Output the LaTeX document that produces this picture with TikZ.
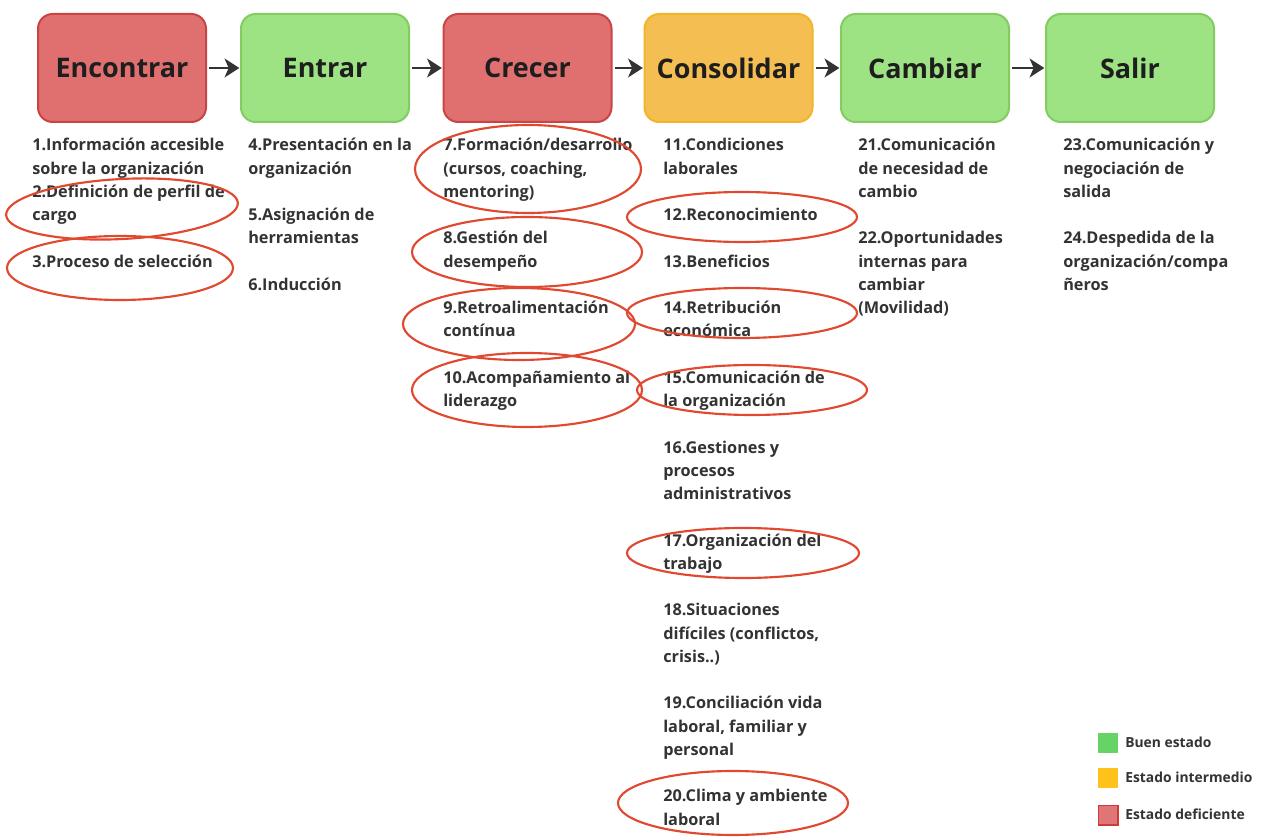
\documentclass[tikz,border=0pt]{standalone}
\usepackage{fontspec}
\setmainfont{Open Sans}
\usetikzlibrary{arrows.meta}
\definecolor{redfill}{HTML}{E07070}
\definecolor{redline}{HTML}{C94545}
\definecolor{greenfill}{HTML}{9DE283}
\definecolor{greenline}{HTML}{82CC62}
\definecolor{orangefill}{HTML}{F4BE52}
\definecolor{orangeline}{HTML}{F2B527}
\definecolor{headtext}{HTML}{1E1E1E}
\definecolor{bodytext}{HTML}{333333}
\definecolor{arrowgray}{HTML}{333333}
\definecolor{ringred}{HTML}{E0492F}
\definecolor{leggreen}{HTML}{66D366}
\definecolor{legorange}{HTML}{FFC21A}
\definecolor{legred}{HTML}{E07575}
\definecolor{legredline}{HTML}{CC3A3A}
\begin{document}
\begin{tikzpicture}[x=0.75pt,y=-0.75pt,
  stage/.style={draw, line width=1.5pt, rounded corners=11pt,
    minimum width=126pt, minimum height=81pt, inner sep=0pt,
    font=\fontsize{20.2}{24}\selectfont\bfseries, text=headtext},
  bad/.style={stage, fill=redfill, draw=redline},
  good/.style={stage, fill=greenfill, draw=greenline},
  midway state/.style={stage, fill=orangefill, draw=orangeline},
  flow/.style={-{Stealth[length=11pt,width=14pt,inset=3pt]}, line width=2.2pt,
    draw=arrowgray, shorten <=1.5pt, shorten >=0.5pt},
  % items are placed by the baseline of their last line (151 + 23.25 k)
  itm/.style={anchor=base west, align=left, inner sep=0pt,
    font=\fontsize{12.2}{17.44}\selectfont\bfseries, text=bodytext},
  ring/.style={draw=ringred, line width=1.6pt},
  legbox/.style={minimum size=14.5pt, inner sep=0pt, anchor=north west},
  legtext/.style={anchor=base west, inner sep=0pt,
    font=\fontsize{10.4}{12}\selectfont\bfseries, text=bodytext}]
\useasboundingbox[fill=white] (0,0) rectangle (1264,837);

% stages
\node[bad]          (enc) at (122,68)    {Encontrar};
\node[good]         (ent) at (325,68)    {Entrar};
\node[bad]          (cre) at (527.5,68)  {Crecer};
\node[midway state] (con) at (728.5,68)  {Consolidar};
\node[good]         (cam) at (925,68)    {Cambiar};
\node[good]         (sal) at (1130,68)   {Salir};

\draw[flow] (enc) -- (ent);
\draw[flow] (ent) -- (cre);
\draw[flow] (cre) -- (con);
\draw[flow] (con) -- (cam);
\draw[flow] (cam) -- (sal);

% items under each stage
\node[itm] (i1) at (32,{151+23.25*1}) {1.Información accesible\\sobre la organización};
\node[itm] (i2) at (32,{151+23.25*3}) {2.Definición de perfil de\\cargo};
\node[itm] (i3) at (32,{151+23.25*5}) {3.Proceso de selección};

\node[itm] (i4) at (248,{151+23.25*1}) {4.Presentación en la\\organización};
\node[itm] (i5) at (248,{151+23.25*4}) {5.Asignación de\\herramientas};
\node[itm] (i6) at (248,{151+23.25*6}) {6.Inducción};

\node[itm] (i7) at (443,{151+23.25*2}) {7.Formación/desarrollo\\(cursos, coaching,\\mentoring)};
\node[itm] (i8) at (443,{151+23.25*5}) {8.Gestión del\\desempeño};
\node[itm] (i9) at (443,{151+23.25*8}) {9.Retroalimentación\\contínua};
\node[itm] (i10) at (443,{151+23.25*11}) {10.Acompañamiento al\\liderazgo};

\node[itm] (i11) at (663,{151+23.25*1}) {11.Condiciones\\laborales};
\node[itm] (i12) at (663,{151+23.25*3}) {12.Reconocimiento};
\node[itm] (i13) at (663,{151+23.25*5}) {13.Beneficios};
\node[itm] (i14) at (663,{151+23.25*8}) {14.Retribución\\económica};
\node[itm] (i15) at (663,{151+23.25*11}) {15.Comunicación de\\la organización};
\node[itm] (i16) at (663,{151+23.25*15}) {16.Gestiones y\\procesos\\administrativos};
\node[itm] (i17) at (663,{151+23.25*18}) {17.Organización del\\trabajo};
\node[itm] (i18) at (663,{151+23.25*22}) {18.Situaciones\\difíciles (conflictos,\\crisis..)};
\node[itm] (i19) at (663,{151+23.25*26}) {19.Conciliación vida\\laboral, familiar y\\personal};
\node[itm] (i20) at (663,{151+23.25*29}) {20.Clima y ambiente\\laboral};

\node[itm] (i21) at (858,{151+23.25*2}) {21.Comunicación\\de necesidad de\\cambio};
\node[itm] (i22) at (858,{151+23.25*7}) {22.Oportunidades\\internas para\\cambiar\\(Movilidad)};

\node[itm] (i23) at (1063,{151+23.25*2}) {23.Comunicación y\\negociación de\\salida};
\node[itm] (i24) at (1063,{151+23.25*6}) {24.Despedida de la\\organización/compa\\ñeros};

% hand-drawn rings around the weak items
\draw[ring, rotate around={3:(122,209)}] (122,209) ellipse [x radius=116, y radius=30];
\draw[ring] (120,268) ellipse [x radius=113, y radius=32];
\draw[ring] (528,169) ellipse [x radius=113, y radius=44];
\draw[ring] (527,252) ellipse [x radius=115, y radius=35];
\draw[ring] (519,324) ellipse [x radius=116, y radius=36];
\draw[ring] (527,390) ellipse [x radius=115, y radius=37];
\draw[ring] (742,217) ellipse [x radius=115, y radius=25];
\draw[ring] (742,313) ellipse [x radius=115, y radius=25];
\draw[ring] (752,390) ellipse [x radius=115, y radius=25];
\draw[ring] (743,553) ellipse [x radius=116, y radius=25];
\draw[ring] (733,803) ellipse [x radius=115, y radius=32];

% legend
\node[legbox, fill=leggreen]  (lg) at (1098,733) {};
\node[legbox, fill=legorange] (lo) at (1098,768) {};
\node[legbox, fill=legred, draw=legredline, line width=1pt] (lr) at (1098,805) {};
\node[legtext] (tg) at (1125,747) {Buen estado};
\node[legtext] (to) at (1125,782) {Estado intermedio};
\node[legtext] (tr) at (1125,819) {Estado deficiente};
\end{tikzpicture}
\end{document}
